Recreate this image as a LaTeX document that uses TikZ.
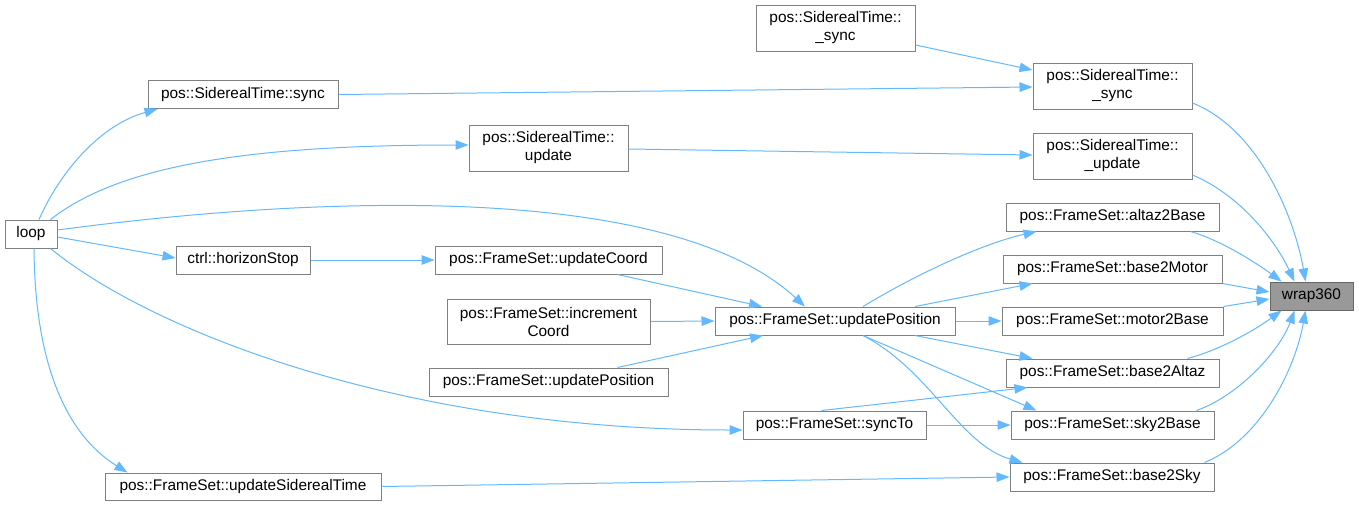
\documentclass[tikz,border=0pt]{standalone}
\usepackage{fontspec}
\setmainfont{Liberation Sans}
\usetikzlibrary{arrows.meta}
\definecolor{edgeblue}{HTML}{63B8FF}
\definecolor{boxborder}{HTML}{808080}
\definecolor{hlfill}{HTML}{999999}
\definecolor{hlborder}{HTML}{666666}
\tikzset{
  fnbox/.style={draw=boxborder, line width=1pt, fill=white, inner sep=0pt, align=center,
    font=\fontsize{15.4pt}{18pt}\selectfont, minimum height=28pt},
  twoline/.style={minimum height=46pt},
  hlbox/.style={fnbox, fill=hlfill, draw=hlborder},
  edge/.style={draw=edgeblue, line width=1pt, -{Triangle[length=13pt,width=9.5pt]}}
}
\begin{document}
\begin{tikzpicture}[x=1pt,y=-1pt]
\useasboundingbox (0,0) rectangle (1359,506);
% nodes
\node[fnbox, minimum width=52pt] (loop) at (31,234) {loop};
\node[fnbox, minimum width=190pt] (sync) at (243,94.5) {pos::SiderealTime::sync};
\node[fnbox, twoline, minimum width=159pt] (stupdate) at (548.5,148) {pos::SiderealTime::\\update};
\node[fnbox, twoline, minimum width=159pt] (syncA) at (835.5,28) {pos::SiderealTime::\\\_sync};
\node[fnbox, twoline, minimum width=159pt] (syncB) at (1112.5,86) {pos::SiderealTime::\\\_sync};
\node[fnbox, twoline, minimum width=159pt] (upd) at (1112.5,156) {pos::SiderealTime::\\\_update};
\node[fnbox, minimum width=213pt] (altazbase) at (1112.5,217) {pos::FrameSet::altaz2Base};
\node[fnbox, minimum width=219pt] (basemotor) at (1112.5,269) {pos::FrameSet::base2Motor};
\node[fnbox, minimum width=221pt] (motorbase) at (1112.5,321) {pos::FrameSet::motor2Base};
\node[fnbox, minimum width=213pt] (basealtaz) at (1112.5,373) {pos::FrameSet::base2Altaz};
\node[fnbox, minimum width=203pt] (skybase) at (1112.5,425) {pos::FrameSet::sky2Base};
\node[fnbox, minimum width=204pt] (basesky) at (1112,477) {pos::FrameSet::base2Sky};
\node[hlbox, minimum width=83pt] (wrap) at (1311.5,296) {wrap360};
\node[fnbox, minimum width=134pt] (hstop) at (243,260) {ctrl::horizonStop};
\node[fnbox, minimum width=227pt] (ucoord) at (548.5,260) {pos::FrameSet::updateCoord};
\node[fnbox, minimum width=203pt, minimum height=45pt] (icoord) at (548.5,321.5) {pos::FrameSet::increment\\Coord};
\node[fnbox, minimum width=240pt] (upos) at (835,321) {pos::FrameSet::updatePosition};
\node[fnbox, minimum width=239pt] (uposb) at (548.5,382) {pos::FrameSet::updatePosition};
\node[fnbox, minimum width=183pt] (syncto) at (834.5,425) {pos::FrameSet::syncTo};
\node[fnbox, minimum width=276pt, minimum height=27pt] (ust) at (243,486.5) {pos::FrameSet::updateSiderealTime};
% edges from loop
\draw[edge] ([xshift=8pt]loop.north) .. controls (60,172) and (100,125) .. ([xshift=10pt]sync.south west);
\draw[edge] ([xshift=-7pt]loop.north east) .. controls (120,165) and (250,145) .. ([yshift=3pt]stupdate.west);
\draw[edge] ([yshift=4pt]loop.east) .. controls (320,195) and (670,182) .. ([xshift=-30pt]upos.north);
\draw[edge] ([yshift=-3pt]loop.east) -- ([yshift=2pt]hstop.west);
\draw[edge] ([xshift=-7pt]loop.south east) .. controls (150,330) and (400,430) .. ([yshift=-5pt]syncto.west);
\draw[edge] ([xshift=3pt]loop.south) .. controls (35,380) and (75,440) .. ([xshift=23pt]ust.north west);
% sidereal time
\draw[edge] ([yshift=-17pt]syncA.east) -- ([yshift=16pt]syncB.west);
\draw[edge] (sync.east) -- ([yshift=-1pt]syncB.west);
\draw[edge] ([yshift=-1pt]stupdate.east) -- ([yshift=1pt]upd.west);
% update position chain
\draw[edge] (hstop) -- (ucoord);
\draw[edge] ([xshift=69pt]ucoord.south) -- ([xshift=-73pt]upos.north);
\draw[edge] (icoord.east) -- (upos.west);
\draw[edge] ([xshift=69pt]uposb.north) -- ([xshift=-72pt]upos.south);
% from updatePosition
\draw[edge] ([xshift=28pt]upos.north) .. controls (920,272) and (985,243) .. ([xshift=31pt]altazbase.south west);
\draw[edge] ([xshift=80pt]upos.north) -- ([xshift=30pt]basemotor.south west);
\draw[edge] (upos) -- (motorbase);
\draw[edge] ([xshift=80pt]upos.south) -- ([xshift=27pt]basealtaz.north west);
\draw[edge] ([xshift=28pt]upos.south) -- ([xshift=26pt]skybase.north west);
\draw[edge] ([xshift=28pt]upos.south) .. controls (930,370) and (960,445) .. ([xshift=13pt]basesky.north west);
% syncTo and updateSiderealTime
\draw[edge] ([xshift=79pt]syncto.north west) -- ([xshift=22pt]basealtaz.south west);
\draw[edge] (syncto) -- (skybase);
\draw[edge] (ust.east) -- (basesky.west);
% into wrap360
\draw[edge] ([yshift=-17pt]syncB.east) .. controls (1260,130) and (1295,220) .. ([xshift=-6pt]wrap.north);
\draw[edge] ([yshift=-19pt]upd.east) .. controls (1240,195) and (1275,240) .. ([xshift=-17pt]wrap.north);
\draw[edge] ([xshift=-29pt]altazbase.south east) .. controls (1220,240) and (1255,262) .. ([xshift=12pt]wrap.north west);
\draw[edge] (basemotor.south east) -- ([yshift=4pt]wrap.west);
\draw[edge] (motorbase.north east) -- ([yshift=-3pt]wrap.west);
\draw[edge] ([xshift=-32pt]basealtaz.north east) .. controls (1220,350) and (1255,330) .. ([xshift=12pt]wrap.south west);
\draw[edge] ([xshift=-18pt]skybase.north east) .. controls (1240,395) and (1280,350) .. ([xshift=-17pt]wrap.south);
\draw[edge] ([xshift=-10pt]basesky.north east) .. controls (1260,440) and (1295,370) .. ([xshift=-6pt]wrap.south);
\end{tikzpicture}
\end{document}
